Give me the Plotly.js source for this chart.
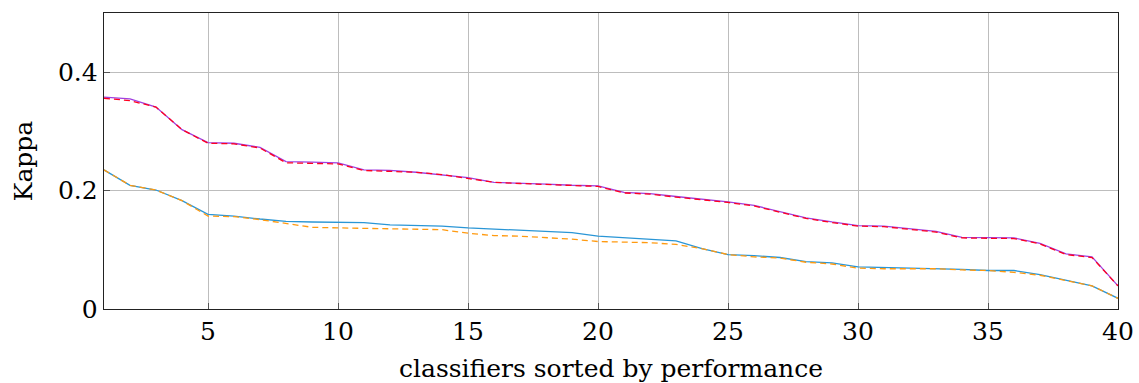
<!DOCTYPE html>
<html>
<head>
<meta charset="utf-8">
<script src="https://cdn.plot.ly/plotly-3.0.1.min.js"></script>
<style>
  html, body { margin: 0; padding: 0; background: #fff; }
  #chart { width: 1139px; height: 383px; }
</style>
</head>
<body>
<div id="chart"></div>
<script>
// Rank of each classifier (1 = best)
const ranks = Array.from({length: 40}, (_, i) => i + 1);

// Upper pair of curves
const upperSolid = [0.358, 0.355, 0.341, 0.303, 0.281, 0.280, 0.273, 0.249, 0.248, 0.247,
                    0.235, 0.234, 0.231, 0.227, 0.222, 0.214, 0.213, 0.211, 0.209, 0.208,
                    0.197, 0.195, 0.190, 0.186, 0.181, 0.175, 0.164, 0.154, 0.147, 0.141,
                    0.140, 0.135, 0.131, 0.121, 0.121, 0.120, 0.111, 0.093, 0.088, 0.039];
const upperDashed = [0.356, 0.352, 0.341, 0.303, 0.280, 0.279, 0.272, 0.247, 0.246, 0.245,
                     0.234, 0.233, 0.231, 0.227, 0.221, 0.214, 0.212, 0.210, 0.208, 0.207,
                     0.196, 0.194, 0.189, 0.185, 0.180, 0.174, 0.163, 0.153, 0.146, 0.140,
                     0.139, 0.134, 0.130, 0.120, 0.120, 0.119, 0.110, 0.092, 0.087, 0.039];

// Lower pair of curves
const lowerSolid = [0.235, 0.209, 0.201, 0.183, 0.160, 0.157, 0.152, 0.148, 0.147, 0.146,
                    0.146, 0.142, 0.141, 0.140, 0.137, 0.135, 0.133, 0.130, 0.129, 0.123,
                    0.120, 0.118, 0.115, 0.102, 0.092, 0.090, 0.087, 0.080, 0.078, 0.071,
                    0.070, 0.069, 0.069, 0.067, 0.065, 0.065, 0.058, 0.048, 0.039, 0.018];
const lowerDashed = [0.235, 0.209, 0.201, 0.183, 0.157, 0.156, 0.151, 0.145, 0.138, 0.137,
                     0.136, 0.136, 0.135, 0.134, 0.128, 0.124, 0.123, 0.121, 0.118, 0.114,
                     0.113, 0.112, 0.109, 0.102, 0.092, 0.088, 0.086, 0.079, 0.076, 0.069,
                     0.068, 0.068, 0.068, 0.066, 0.065, 0.062, 0.057, 0.048, 0.039, 0.018];

const xTicks = [5, 10, 15, 20, 25, 30, 35, 40];
const yTicks = [0, 0.2, 0.4];
const yTickText = ['0', '0.2', '0.4'];

const serif = 'DejaVu Serif';

function line(y, color, dash) {
  return {
    x: ranks, y: y, type: 'scatter', mode: 'lines',
    line: {color: color, width: 1.3, dash: dash},
    hoverinfo: 'skip', showlegend: false
  };
}

const traces = [
  line(lowerSolid, '#2a96d6', 'solid'),
  line(lowerDashed, '#ff9a10', '6px,4px'),
  line(upperSolid, '#a040e0', 'solid'),
  line(upperDashed, '#ff0020', '6px,4px')
];

const layout = {
  width: 1139, height: 383,
  margin: {l: 104, r: 21, t: 13, b: 74},
  paper_bgcolor: '#fff', plot_bgcolor: '#fff',
  font: {family: serif, size: 25, color: '#000'},
  xaxis: {
    range: [1, 40], tickvals: xTicks, ticktext: xTicks.map(String),
    showgrid: true, gridcolor: '#bdbdbd', gridwidth: 1,
    zeroline: false, showline: true, linecolor: '#222', linewidth: 1.3,
    mirror: true, ticks: 'inside', ticklen: 6, tickcolor: '#555', tickwidth: 1,
    tickfont: {family: serif, size: 25},
    title: {text: 'classifiers sorted by performance', font: {family: serif, size: 25}, standoff: 14}
  },
  yaxis: {
    range: [0, 0.5], tickvals: yTicks, ticktext: yTickText,
    showgrid: true, gridcolor: '#bdbdbd', gridwidth: 1,
    zeroline: false, showline: true, linecolor: '#222', linewidth: 1.3,
    mirror: true, ticks: 'inside', ticklen: 6, tickcolor: '#555', tickwidth: 1,
    tickfont: {family: serif, size: 25},
    title: {text: 'Kappa', font: {family: serif, size: 25}, standoff: 18}
  }
};

Plotly.newPlot('chart', traces, layout, {staticPlot: true, displayModeBar: false});
</script>
</body>
</html>
